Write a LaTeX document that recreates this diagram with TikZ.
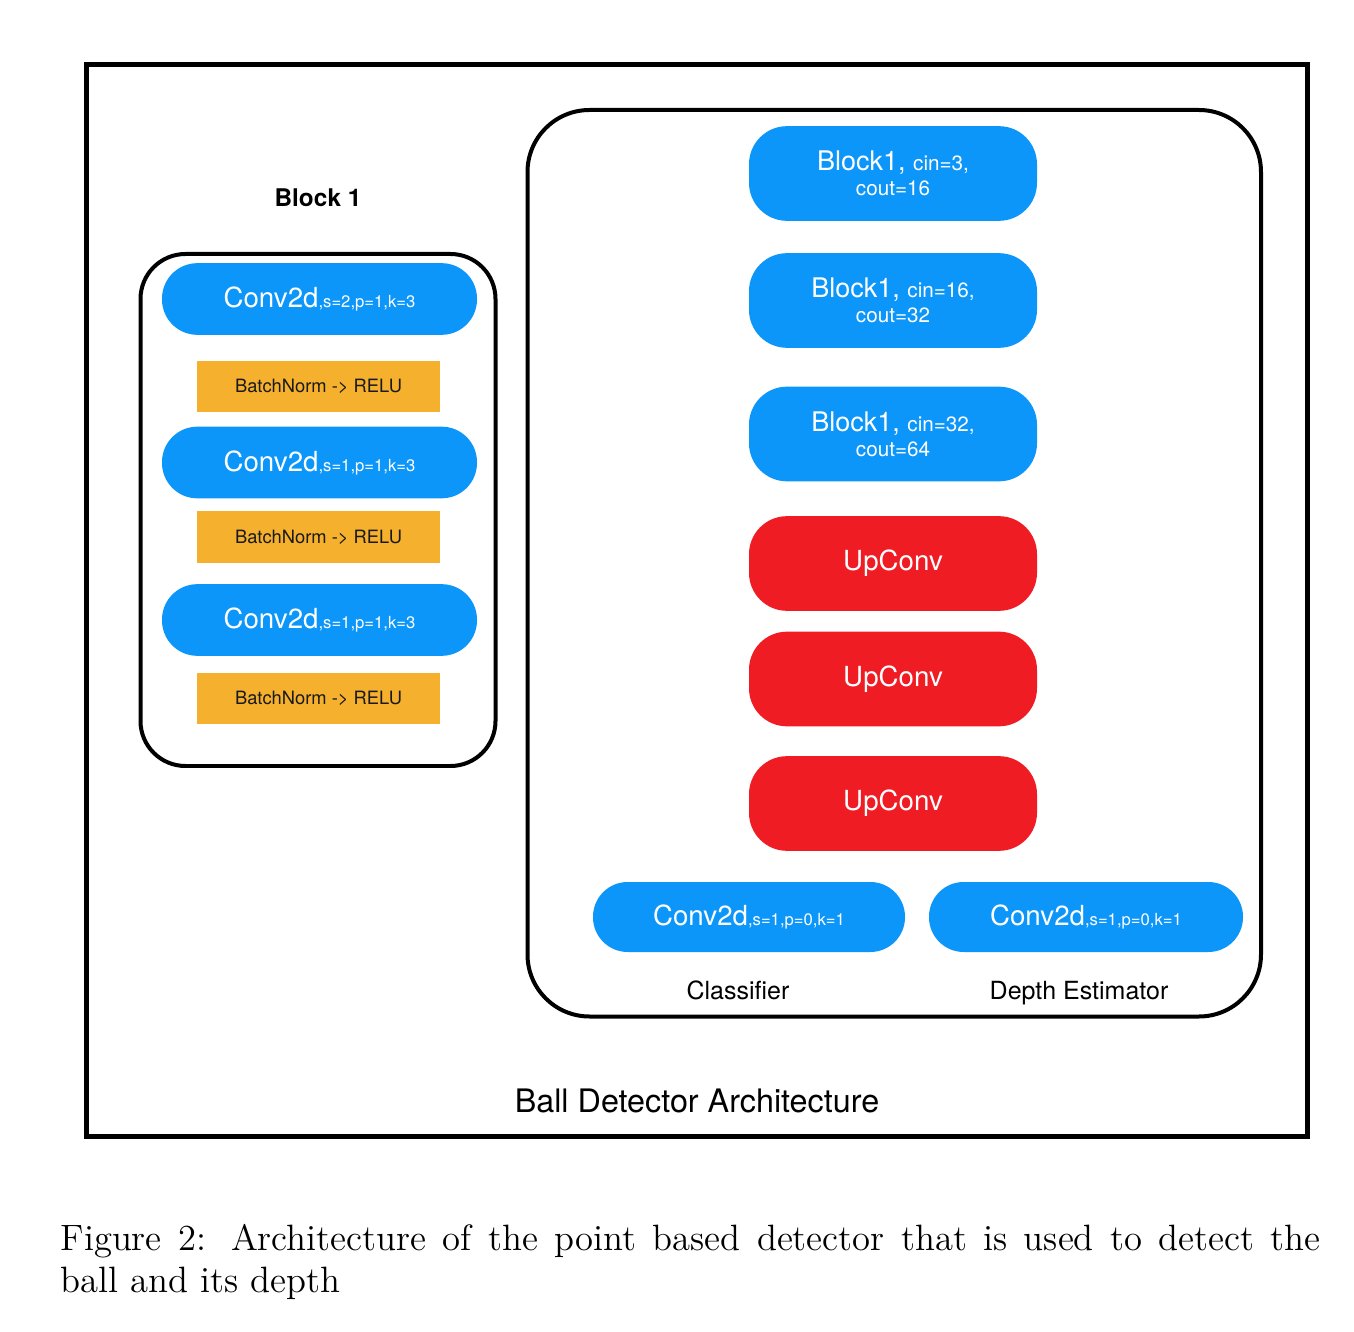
\documentclass[tikz,border=0pt]{standalone}
\usepackage{fontspec}
\newfontfamily\hel{TeX Gyre Heros}
\definecolor{nnblue}{RGB}{12,150,250}
\definecolor{nnred}{RGB}{240,28,36}
\definecolor{nnorange}{RGB}{245,176,46}
\newcommand{\subtxt}[1]{{\fontsize{5}{6}\selectfont #1}}
\newcommand{\smtxt}[1]{{\fontsize{6.2}{7.5}\selectfont #1}}
\begin{document}
\begin{tikzpicture}[x=0.3pt,y=-0.3pt,
  frame/.style={line width=1.2pt},
  pill/.style={fill=nnblue, text=white, rounded corners=10.6pt, minimum width=94.5pt,
    minimum height=21.5pt, inner sep=0pt, font=\hel\fontsize{8.3}{10}\selectfont},
  bnbox/.style={fill=nnorange, text=black!90, minimum width=72.9pt, minimum height=15.4pt,
    inner sep=0pt, font=\hel\fontsize{5.5}{6.6}\selectfont},
  blockbox/.style={fill=nnblue, text=white, rounded corners=11.4pt, minimum width=86.4pt,
    minimum height=28.4pt, inner sep=0pt, align=center, font=\hel\fontsize{8.1}{7.5}\selectfont},
  upbox/.style={blockbox, fill=nnred, font=\hel\fontsize{8.3}{10}\selectfont},
  lbl/.style={inner sep=0pt, anchor=base, font=\hel\fontsize{7.5}{9}\selectfont},
  captxt/.style={inner sep=0pt, anchor=base west, font=\fontsize{11}{13.2}\selectfont}
]
\useasboundingbox[fill=white] (0,0) rectangle (1354,1332);

% outer frame
\draw[line width=1.5pt] (86.5,64.5) rectangle (1307.5,1136);

% Block 1 detail
\node[inner sep=0pt, font=\hel\bfseries\fontsize{7.3}{9}\selectfont] (b1title) at (318,198) {Block 1};
\draw[frame, rounded corners=13.5pt] (140.5,254) rectangle (495.5,766);
\node[pill] (c1) at (319.5,299) {Conv2d\subtxt{,s=2,p=1,k=3}};
\node[bnbox] (bn1) at (318.5,386.5) {BatchNorm -> RELU};
\node[pill] (c2) at (319.5,462.5) {Conv2d\subtxt{,s=1,p=1,k=3}};
\node[bnbox] (bn2) at (318.5,537) {BatchNorm -> RELU};
\node[pill] (c3) at (319.5,620) {Conv2d\subtxt{,s=1,p=1,k=3}};
\node[bnbox] (bn3) at (318.5,698.5) {BatchNorm -> RELU};

% Ball detector
\draw[frame, rounded corners=18.6pt] (527.5,110) rectangle (1261,1016.5);
\node[blockbox] (bk1) at (893,173.5) {Block1, \smtxt{cin=3,}\\\smtxt{cout=16}};
\node[blockbox] (bk2) at (893,300.5) {Block1, \smtxt{cin=16,}\\\smtxt{cout=32}};
\node[blockbox] (bk3) at (893,434) {Block1, \smtxt{cin=32,}\\\smtxt{cout=64}};
\node[upbox] (up1) at (893,563.5) {UpConv};
\node[upbox] (up2) at (893,679) {UpConv};
\node[upbox] (up3) at (893,803.5) {UpConv};
\node[pill, minimum width=93.6pt, minimum height=21pt, rounded corners=10.4pt] (cls) at (749,917) {Conv2d\subtxt{,s=1,p=0,k=1}};
\node[pill, minimum width=94.2pt, minimum height=21pt, rounded corners=10.4pt] (dep) at (1086,917) {Conv2d\subtxt{,s=1,p=0,k=1}};
\node[lbl] (clsl) at (738,999) {Classifier};
\node[lbl] (depl) at (1079,999) {Depth Estimator};
\node[inner sep=0pt, font=\hel\fontsize{9.7}{11}\selectfont] (title) at (697,1101) {Ball Detector Architecture};

% caption
\node[captxt] (cap1) at (60,1250) {\makebox[378pt][s]{Figure 2: Architecture of the point based detector that is used to detect the}};
\node[captxt] (cap2) at (60,1292) {ball and its depth};
\end{tikzpicture}
\end{document}
